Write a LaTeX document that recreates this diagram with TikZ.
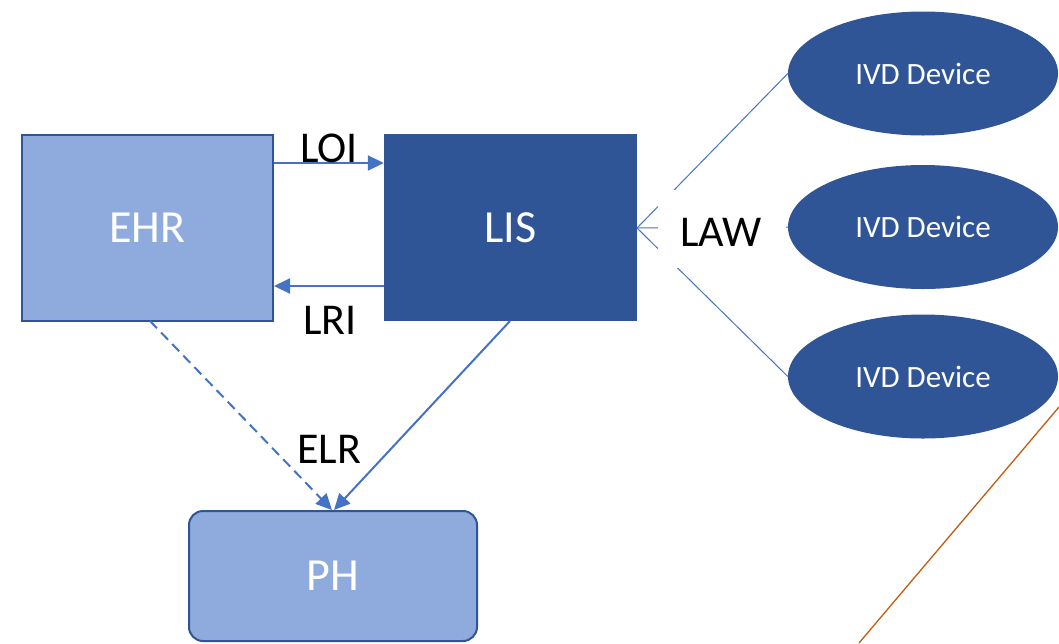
\documentclass[tikz,border=0pt]{standalone}
\usepackage{fontspec}
\setmainfont{Carlito}
\usetikzlibrary{arrows.meta,shapes.geometric}
\definecolor{dkblue}{HTML}{2F5597}
\definecolor{ltblue}{HTML}{8FAADC}
\definecolor{arblue}{HTML}{4472C4}
\definecolor{orng}{HTML}{C55A11}
\begin{document}
\begin{tikzpicture}[x=1pt,y=-1pt,
  lightbox/.style={draw=dkblue,line width=2pt,fill=ltblue,text=white,font=\fontsize{46}{50}\selectfont,inner sep=0pt},
  darkbox/.style={fill=dkblue,text=white,font=\fontsize{46}{50}\selectfont,inner sep=0pt},
  ivd/.style={ellipse,fill=dkblue,text=white,minimum width=270pt,minimum height=124pt,inner sep=0pt,font=\fontsize{31}{34}\selectfont},
  lbl/.style={text=black,font=\fontsize{44}{46}\selectfont,inner sep=0pt},
  arr/.style={draw=arblue,line width=2pt,-{Triangle[length=16pt,width=15pt]}},
  thin/.style={draw=arblue,line width=1pt}
]
\useasboundingbox (0,0) rectangle (1059,643);
\node[lightbox,minimum width=251pt,minimum height=186pt] (ehr) at (147.5,228) {EHR};
\node[darkbox,minimum width=253pt,minimum height=187pt] (lis) at (510.5,227.5) {LIS};
\node[lightbox,rounded corners=14pt,minimum width=288pt,minimum height=130pt] (ph) at (333,576) {PH};
\node[ivd] (d1) at (923,73.5) {IVD Device};
\node[ivd] (d2) at (923,227) {IVD Device};
\node[ivd] (d3) at (923,376.5) {IVD Device};
\coordinate (lisR) at (637,228);
\draw[thin] (d1.west) -- (lisR);
\draw[thin] (d2.west) -- (lisR);
\draw[thin] (d3.west) -- (lisR);
\node[fill=white,minimum width=128pt,minimum height=78pt,inner sep=0pt] (lawbg) at (722,229) {};
\node[lbl] (law) at (721,232) {LAW};
\draw[arr] (ehr.east |- 0,163) -- (lis.west |- 0,163);
\draw[arr] (lis.west |- 0,286) -- (ehr.east |- 0,286);
\node[lbl] (loi) at (329,148) {LOI};
\node[lbl] (lri) at (330,320) {LRI};
\node[lbl] (elr) at (329,449) {ELR};
\coordinate (ehrB) at (150,321);
\coordinate (lisB) at (510,321);
\draw[arr,dash pattern=on 10pt off 6pt] (ehrB) -- (ph.north -| 332,0);
\draw[arr] (lisB) -- (ph.north -| 334,0);
\coordinate (o1) at (1059,407);
\coordinate (o2) at (859,643);
\draw[orng,line width=1.3pt] (o1) -- (o2);
\end{tikzpicture}
\end{document}
